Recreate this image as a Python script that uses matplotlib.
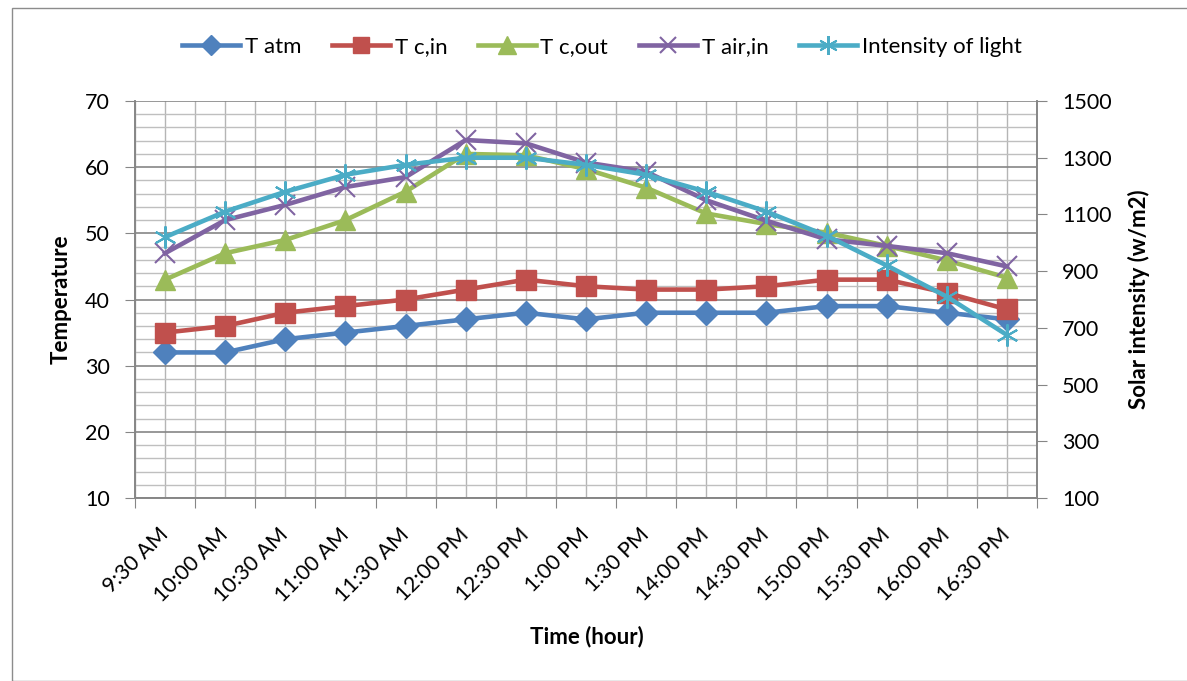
import numpy as np
import matplotlib
matplotlib.use("Agg")
import matplotlib.pyplot as plt
import matplotlib.transforms as mtrans
from matplotlib.patches import Rectangle

plt.rcParams['font.family'] = ['Lato', 'DejaVu Sans']

times = ["9:30 AM", "10:00 AM", "10:30 AM", "11:00 AM", "11:30 AM", "12:00 PM",
         "12:30 PM", "1:00 PM", "1:30 PM", "14:00 PM", "14:30 PM", "15:00 PM",
         "15:30 PM", "16:00 PM", "16:30 PM"]
t_atm = [32, 32, 34, 35, 36, 37, 38, 37, 38, 38, 38, 39, 39, 38, 37]
t_c_in = [35, 36, 38, 39, 40, 41.5, 43, 42, 41.5, 41.5, 42, 43, 43, 41, 38.5]
t_c_out = [43, 47, 49, 52, 56.3, 62, 61.8, 59.7, 56.9, 53, 51.4, 50.1, 48.1, 45.9, 43.3]
t_air_in = [47, 52, 54.3, 57, 58.5, 64.1, 63.6, 60.7, 59.3, 55, 51.9, 49.1, 48.1, 47, 45]
intensity = [1020, 1110, 1180, 1240, 1275, 1300, 1300, 1275, 1240, 1180, 1110, 1025, 920, 810, 675]

W, H = 1187, 681
fig = plt.figure(figsize=(W / 100, H / 100), dpi=100)
fig.patches.append(Rectangle((12 / W, 0), 1.2, 1 - 8 / H, transform=fig.transFigure,
                             fill=False, edgecolor='#8c8c8c', linewidth=1.0))

left, right, top, bottom = 135, 1037, 101, 498
ax = fig.add_axes([left / W, 1 - bottom / H, (right - left) / W, (bottom - top) / H])
ax2 = ax.twinx()

x = np.arange(len(times))
colors = ['#4F81BD', '#C0504D', '#9BBB59', '#8064A2', '#4BACC6']
lw = 3.3
ax.plot(x, t_atm, color=colors[0], lw=lw, marker='D', ms=12.5, label='T atm', zorder=3)
ax.plot(x, t_c_in, color=colors[1], lw=lw, marker='s', ms=14, label='T c,in', zorder=3)
ax.plot(x, t_c_out, color=colors[2], lw=lw, marker='^', ms=15, label='T c,out', zorder=3)
ax.plot(x, t_air_in, color=colors[3], lw=lw, marker='x', ms=14, mew=1.5, label='T air,in', zorder=3)
ax2.plot(x, intensity, color=colors[4], lw=lw, marker=(6, 2, 0), ms=16, mew=1.5,
         label='Intensity of light', zorder=3)

ax.set_xlim(-0.5, len(times) - 0.5)
ax.set_ylim(10, 70)
ax2.set_ylim(100, 1500)

ax.set_yticks(np.arange(10, 71, 10))
ax.set_yticks(np.arange(10, 71, 2), minor=True)
ax2.set_yticks(np.arange(100, 1501, 200))

fs = 15.5
ax.set_xticks(np.arange(-0.5, len(times), 1))
ax.set_xticklabels([])
ax.set_xticks(x, minor=True)
ax.set_xticklabels(times, minor=True, rotation=45, ha='right', va='center',
                   rotation_mode='anchor', fontsize=fs)
offset = mtrans.ScaledTranslation(10 / 100, 0, fig.dpi_scale_trans)
for lab in ax.xaxis.get_minorticklabels():
    lab.set_transform(lab.get_transform() + offset)

ax.grid(True, which='major', axis='y', color='#868686', lw=1.2, zorder=0)
ax.grid(True, which='minor', axis='y', color='#bfbfbf', lw=1.0, zorder=0)
ax.grid(True, which='both', axis='x', color='#b5b5b5', lw=1.0, zorder=0)
ax.set_axisbelow(True)

for a in (ax, ax2):
    for s in a.spines.values():
        s.set_color('#868686')
        s.set_linewidth(1.2)
ax.spines['top'].set_visible(False)
ax2.spines['top'].set_visible(False)

ax.tick_params(axis='y', which='major', length=7, color='#868686', labelsize=fs, pad=11)
ax.tick_params(axis='y', which='minor', length=0)
ax.tick_params(axis='x', which='major', length=7, color='#868686')
ax.tick_params(axis='x', which='minor', length=0, pad=24)
ax2.tick_params(axis='y', length=7, color='#868686', labelsize=fs, pad=11)

ax.set_ylabel('Temperature', fontsize=16, fontweight='bold', labelpad=10)
ax2.set_ylabel('Solar intensity (w/m2)', fontsize=16, fontweight='bold', labelpad=12)
fig.text(587 / W, 1 - 637 / H, 'Time (hour)', fontsize=16, fontweight='bold',
         ha='center', va='center')

h1, l1 = ax.get_legend_handles_labels()
h2, l2 = ax2.get_legend_handles_labels()
fig.legend(h1 + h2, l1 + l2, loc='center', bbox_to_anchor=(602 / W, 1 - 47 / H),
           ncol=5, frameon=False, fontsize=16, handlelength=2.6, columnspacing=1.4,
           handletextpad=0.2, markerscale=0.85)

fig.savefig('out.png', dpi=100)
